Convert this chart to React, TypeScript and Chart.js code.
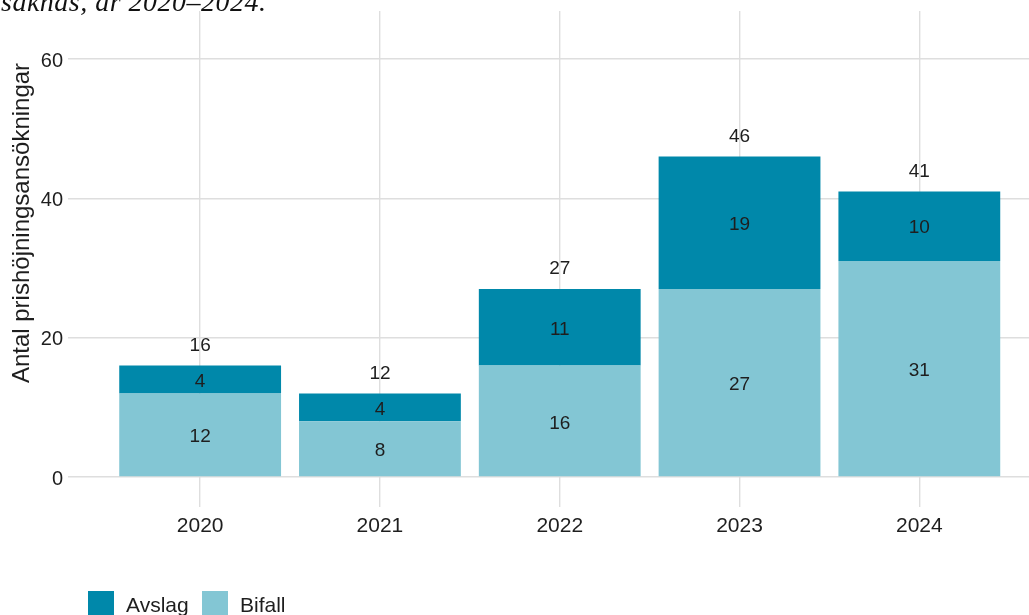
import React, { useEffect, useRef } from "react";
import { Chart, registerables } from "chart.js";

Chart.register(...registerables);

const years = ["2020", "2021", "2022", "2023", "2024"];
const bifall = [12, 8, 16, 27, 31];
const avslag = [4, 4, 11, 19, 10];
const totals = [16, 12, 27, 46, 41];
const yTicks = [0, 20, 40, 60];
const yTitle = "Antal prishöjningsansökningar";
const caption = "saknas, år 2020–2024.";

const DARK = "#0088AA";
const LIGHT = "#83C6D4";
const GRID = "#DEDEDE";
const TEXT = "#1E1E1E";
const FONT = "'Liberation Sans', Arial, sans-serif";

const overlay = {
  id: "overlay",
  afterDatasetsDraw(chart: any) {
    const ctx = chart.ctx;
    const xs = chart.scales.x;
    const ys = chart.scales.y;
    ctx.save();
    ctx.fillStyle = TEXT;
    ctx.textAlign = "center";
    ctx.textBaseline = "middle";
    ctx.font = `19px ${FONT}`;
    years.forEach((_, i) => {
      const x = xs.getPixelForValue(i + 1);
      ctx.fillText(String(bifall[i]), x, ys.getPixelForValue(bifall[i] / 2) + 2);
      ctx.fillText(String(avslag[i]), x, ys.getPixelForValue(bifall[i] + avslag[i] / 2) + 2);
      ctx.fillText(String(totals[i]), x, ys.getPixelForValue(totals[i] + 3) + 1);
    });
    // y axis title
    ctx.save();
    ctx.translate(22, 223);
    ctx.rotate(-Math.PI / 2);
    ctx.font = `24px ${FONT}`;
    ctx.fillText(yTitle, 0, 0);
    ctx.restore();
    // legend
    const items = [
      { label: "Avslag", color: DARK, x: 88 },
      { label: "Bifall", color: LIGHT, x: 202 },
    ];
    ctx.font = `21px ${FONT}`;
    ctx.textAlign = "left";
    ctx.textBaseline = "alphabetic";
    items.forEach((it) => {
      ctx.fillStyle = it.color;
      ctx.fillRect(it.x, 591, 26, 26);
      ctx.fillStyle = TEXT;
      ctx.fillText(it.label, it.x + 38, 612);
    });
    ctx.restore();
  },
};

export default function App() {
  const ref = useRef<HTMLCanvasElement>(null);
  useEffect(() => {
    const chart = new Chart(ref.current as HTMLCanvasElement, {
      type: "bar",
      data: {
        datasets: [
          {
            label: "Bifall",
            data: years.map((_, i) => ({ x: i + 1, y: bifall[i] })),
            backgroundColor: LIGHT,
            barPercentage: 0.9,
            categoryPercentage: 1,
          },
          {
            label: "Avslag",
            data: years.map((_, i) => ({ x: i + 1, y: avslag[i] })),
            backgroundColor: DARK,
            barPercentage: 0.9,
            categoryPercentage: 1,
          },
        ],
      },
      options: {
        animation: false,
        responsive: false,
        maintainAspectRatio: false,
        layout: { padding: { top: 11, left: 0, right: 0, bottom: 0 } },
        plugins: { legend: { display: false }, tooltip: { enabled: false } },
        scales: {
          x: {
            type: "linear",
            stacked: true,
            min: 0.265,
            max: 5.61,
            offset: false,
            border: { display: false },
            grid: { color: GRID, lineWidth: 1.4, drawTicks: false, offset: false },
            afterBuildTicks: (s: any) => {
              s.ticks = years.map((_, i) => ({ value: i + 1 }));
            },
            afterFit: (s: any) => {
              s.height = 108;
              s.paddingLeft = 0;
              s.paddingRight = 0;
            },
            ticks: {
              padding: 7,
              color: TEXT,
              font: { family: FONT, size: 21 },
              callback: (v: any) => years[Number(v) - 1] ?? "",
              maxRotation: 0,
            },
          },
          y: {
            stacked: true,
            min: -4.3,
            max: 66.9,
            border: { display: false },
            grid: { color: GRID, lineWidth: 1.4, drawTicks: false },
            afterBuildTicks: (s: any) => {
              s.ticks = yTicks.map((v) => ({ value: v }));
            },
            afterFit: (s: any) => {
              s.width = 68;
              s.paddingTop = 0;
              s.paddingBottom = 0;
            },
            ticks: {
              padding: 5,
              labelOffset: 2,
              color: TEXT,
              font: { family: FONT, size: 20 },
            },
          },
        },
      },
      plugins: [overlay],
    } as any);
    return () => chart.destroy();
  }, []);
  return (
    <div
      style={{
        position: "fixed",
        left: 0,
        top: 0,
        width: 1029,
        height: 615,
        overflow: "hidden",
        background: "#fff",
      }}
    >
      <div
        style={{
          position: "absolute",
          left: 1,
          top: -12,
          fontFamily: "'Liberation Serif', serif",
          fontStyle: "italic",
          fontSize: 28,
          lineHeight: "28px",
          letterSpacing: "0.5px",
          color: "#111",
          whiteSpace: "nowrap",
        }}
      >
        {caption}
      </div>
      <canvas ref={ref} width={1029} height={615} style={{ display: "block" }} />
    </div>
  );
}
